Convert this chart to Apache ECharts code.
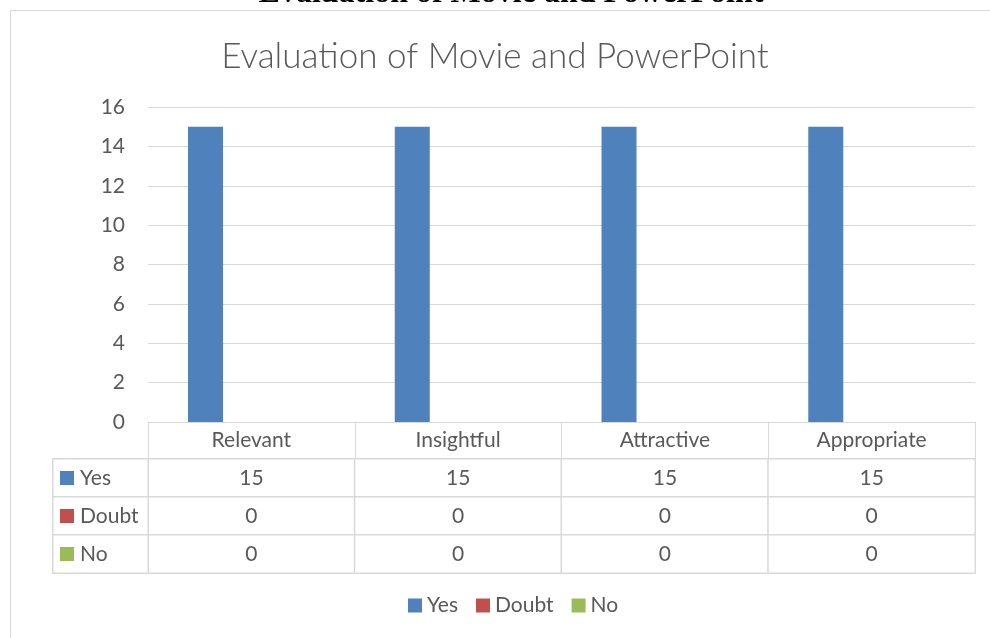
<!DOCTYPE html>
<html>
<head>
<meta charset="utf-8">
<script src="https://cdn.jsdelivr.net/npm/echarts@6/dist/echarts.min.js"></script>
<style>
  html, body { margin: 0; padding: 0; background: #fff; }
  #chart { width: 990px; height: 638px; }
</style>
</head>
<body>
<div id="chart"></div>
<script>
// chart data
const categories = ['Relevant', 'Insightful', 'Attractive', 'Appropriate']
const seriesNames = ['Yes', 'Doubt', 'No']
const yesValues = [15, 15, 15, 15]
const doubtValues = [0, 0, 0, 0]
const noValues = [0, 0, 0, 0]
const yTicks = [0, 16, 2] // min, max, interval

const colors = ['#4f81bd', '#c0504d', '#9bbb59']
const textColor = '#595959'
const lineColor = '#d9d9d9'
const font = 'Lato, "Open Sans", sans-serif'
const fs = 21

const rows = [yesValues, doubtValues, noValues]

// table body cells: [column, row, value]
const cellData = []
rows.forEach((vals, r) => {
  vals.forEach((v, c) => cellData.push([c, r, v]))
})
// row header cells
const rowHeadData = seriesNames.map((n, r) => [0, r, 0])

const rich = {}
colors.forEach((c, i) => {
  rich['k' + i] = { width: 14, height: 14, backgroundColor: c }
})
rich.t = { fontSize: fs, color: textColor, fontFamily: font, padding: [0, 0, 0, 6] }

const chart = echarts.init(document.getElementById('chart'))

const options = {
  animation: false,
  color: colors,
  title: [
    {
      text: 'Evaluation of Movie and PowerPoint',
      left: 'center',
      top: 34,
      textStyle: { fontFamily: font, fontWeight: 300, fontSize: 35, color: textColor }
    }
  ],
  graphic: [
    {
      type: 'rect',
      shape: { x: 10.5, y: 10.5, width: 1000, height: 700 },
      style: { fill: 'none', stroke: lineColor, lineWidth: 1 },
      silent: true
    },
    {
      type: 'text',
      x: 511,
      y: 10,
      style: {
        text: 'Evaluation of Movie and PowerPoint',
        font: 'bold 32px "Liberation Serif", "Times New Roman", serif',
        fill: '#000',
        align: 'center',
        verticalAlign: 'bottom'
      },
      silent: true
    }
  ],
  legend: {
    data: seriesNames,
    bottom: 17,
    left: 403,
    icon: 'rect',
    itemWidth: 14,
    itemHeight: 14,
    itemGap: 18,
    textStyle: { fontFamily: font, fontSize: fs, color: textColor }
  },
  grid: [
    { left: 148, right: 15, top: 107, bottom: 216 },
    { left: 148, right: 15, top: 459, height: 114 },
    { left: 53, width: 95, top: 459, height: 114 }
  ],
  xAxis: [
    {
      type: 'category',
      gridIndex: 0,
      data: categories,
      axisLine: { lineStyle: { color: lineColor } },
      axisTick: { show: true, length: 37, lineStyle: { color: lineColor } },
      axisLabel: { margin: 8, fontFamily: font, fontSize: fs, color: textColor }
    },
    {
      type: 'category', gridIndex: 1, data: categories, show: false
    },
    {
      type: 'category', gridIndex: 2, data: [''], show: false
    }
  ],
  yAxis: [
    {
      type: 'value',
      gridIndex: 0,
      min: yTicks[0],
      max: yTicks[1],
      interval: yTicks[2],
      axisLine: { show: false },
      axisTick: { show: false },
      splitLine: { lineStyle: { color: lineColor } },
      axisLabel: { margin: 23, fontFamily: font, fontSize: fs, color: textColor }
    },
    {
      type: 'category', gridIndex: 1, data: seriesNames, inverse: true, show: false
    },
    {
      type: 'category', gridIndex: 2, data: seriesNames, inverse: true, show: false
    }
  ],
  visualMap: {
    show: false,
    seriesIndex: [3, 4],
    min: 0,
    max: 15,
    inRange: { color: ['#ffffff', '#ffffff'] }
  },
  series: [
    {
      name: 'Yes', type: 'bar', data: yesValues,
      barWidth: 35, barGap: '31%'
    },
    {
      name: 'Doubt', type: 'bar', data: doubtValues,
      barWidth: 35, barGap: '31%'
    },
    {
      name: 'No', type: 'bar', data: noValues,
      barWidth: 35, barGap: '31%'
    },
    {
      type: 'heatmap',
      xAxisIndex: 1,
      yAxisIndex: 1,
      data: cellData,
      itemStyle: { borderColor: lineColor, borderWidth: 1.5 },
      label: {
        show: true,
        fontFamily: font,
        fontSize: fs,
        color: textColor,
        formatter: p => String(p.value[2])
      },
      emphasis: { disabled: true }
    },
    {
      type: 'heatmap',
      xAxisIndex: 2,
      yAxisIndex: 2,
      data: rowHeadData,
      itemStyle: { borderColor: lineColor, borderWidth: 1.5 },
      label: {
        show: true,
        position: 'insideLeft',
        distance: 8,
        formatter: p => '{k' + p.dataIndex + '|}{t|' + seriesNames[p.dataIndex] + '}',
        rich: rich
      },
      emphasis: { disabled: true }
    }
  ]
}

chart.setOption(options)
</script>
</body>
</html>
